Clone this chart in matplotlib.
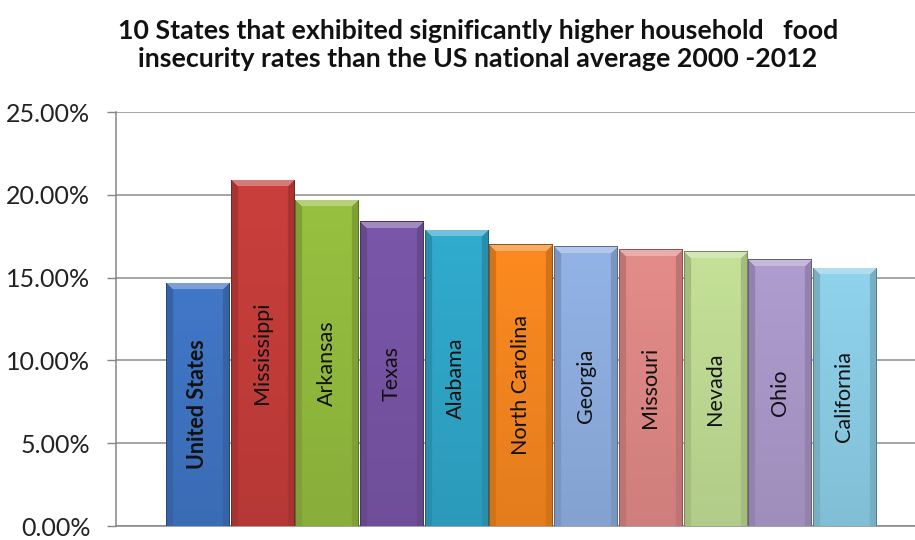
import numpy as np
import matplotlib
matplotlib.use("Agg")
import matplotlib.pyplot as plt
from matplotlib.colors import to_rgb
from matplotlib.ticker import FuncFormatter

# Household food insecurity rate (%), 2000-2012
states = ["United States", "Mississippi", "Arkansas", "Texas", "Alabama",
          "North Carolina", "Georgia", "Missouri", "Nevada", "Ohio", "California"]
rates = [14.7, 20.9, 19.7, 18.4, 17.9, 17.0, 16.9, 16.7, 16.6, 16.1, 15.6]
colors = ["#3f74c2", "#c43d3a", "#93bb3e", "#7754a5", "#2fa6c8", "#f5861f",
          "#8eaee0", "#de8886", "#bfdb93", "#ab98ca", "#8bcde6"]
yticks = [0, 5, 10, 15, 20, 25]

title = ("10 States that exhibited significantly higher household   food\n"
         "insecurity rates than the US national average 2000 -2012")

W, H, DPI = 9.15, 5.40, 100
fig = plt.figure(figsize=(W, H), dpi=DPI)
ax_left, ax_bottom = 116 / 915, 1 - 526 / 540
ax_w, ax_h = 1 - ax_left, (526 - 112) / 540
ax = fig.add_axes([ax_left, ax_bottom, ax_w, ax_h])

x = np.arange(len(states))
bar_w = 0.975
xlim = (-1.26, 11.09)
ax.set_xlim(*xlim)
ax.set_ylim(0, 25)

# pixel scale of the axes, used to size the bevel facets
px_per_x = ax_w * W * DPI / (xlim[1] - xlim[0])
px_per_y = ax_h * H * DPI / 25.0

bars = ax.bar(x, rates, width=bar_w, color=colors, zorder=2,
              edgecolor="none")


def shade(c, f):
    c = np.array(c)
    return np.clip(c * f, 0, 1)


def tint(c, f):
    c = np.array(c)
    return c + (1 - c) * f


for bar, col in zip(bars, colors):
    base = np.array(to_rgb(col))
    x0, bw, h = bar.get_x(), bar.get_width(), bar.get_height()
    npx_w = int(round(bw * px_per_x))
    npx_h = int(round(h * px_per_y))
    cols = np.arange(npx_w) + 0.5
    rows = np.arange(npx_h) + 0.5
    cc, rr = np.meshgrid(cols, rows)
    dl, dr, dt = cc, npx_w - cc, rr
    dside = np.minimum(dl, dr)
    img = np.zeros((npx_h, npx_w, 3))
    # main face with a gentle vertical gradient
    t = rr / max(npx_h, 1)
    face = base[None, None, :] * (1.03 - 0.10 * t[..., None])
    img[:] = np.clip(face, 0, 1)
    bev = 7.0
    side = (dside < bev) & ~((dt < bev) & (dt < dside))
    top = (dt < bev) & (dt <= dside)
    img[side] = shade(base, 0.86)
    img[top] = tint(base, 0.32)
    # thin dark outline
    edge = (dside < 1.2) | (dt < 1.2)
    img[edge] = shade(base, 0.62)
    im = ax.imshow(img, extent=[x0, x0 + bw, 0, h], origin="upper",
                   aspect="auto", zorder=3, interpolation="bilinear")
    im.set_clip_path(bar)

ax.set_xlim(*xlim)
ax.set_ylim(0, 25)

# labels in the middle of each bar
for i, (name, r) in enumerate(zip(states, rates)):
    ax.text(x[i], r / 2, name, rotation=90, ha="center", va="center",
            fontsize=15.5, family="Lato", color="#111111",
            fontweight="bold" if i == 0 else "normal", zorder=5)

ax.set_yticks(yticks)
ax.yaxis.set_major_formatter(FuncFormatter(lambda v, p: f"{v:.2f}%"))
ax.tick_params(axis="y", length=6.5, width=1, color="#868686", pad=12,
               labelsize=18, labelcolor="#222222")
for lab in ax.get_yticklabels():
    lab.set_family("Lato")
ax.set_xticks([])
ax.grid(axis="y", color="#8c8c8c", linewidth=1.1, zorder=0)
ax.set_axisbelow(True)
for s in ["top", "right"]:
    ax.spines[s].set_visible(False)
ax.spines["left"].set_color("#868686")
ax.spines["bottom"].set_color("#868686")
ax.spines["left"].set_linewidth(1.1)
ax.spines["bottom"].set_linewidth(1.1)

fig.text(478 / 915, 1 - 45 / 540, title, ha="center", va="center",
         fontsize=19.3, fontweight="bold", family="Lato", color="#111111",
         linespacing=1.22, multialignment="center")

fig.savefig("out.png", dpi=DPI)
